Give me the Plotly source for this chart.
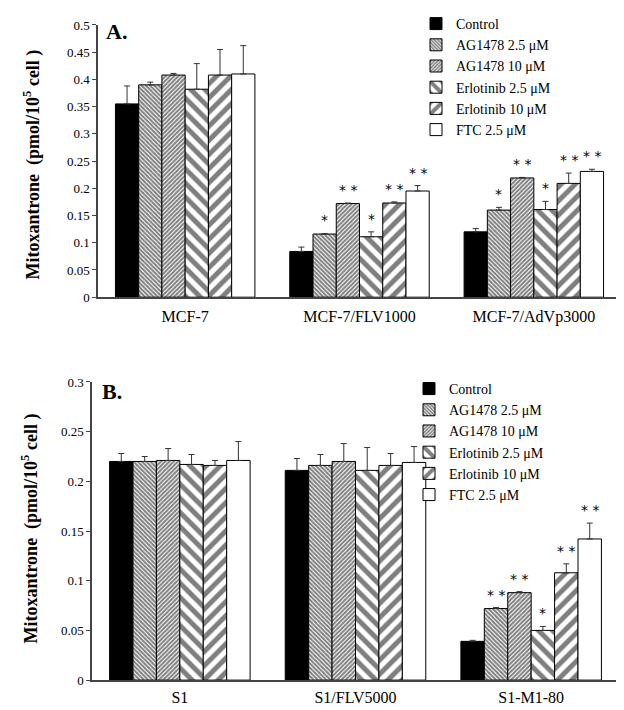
import plotly.graph_objects as go

W, H = 624, 710

series_names = ["Control", "AG1478 2.5 μM", "AG1478 10 μM",
                "Erlotinib 2.5 μM", "Erlotinib 10 μM", "FTC 2.5 μM"]

cats_a = ["MCF-7", "MCF-7/FLV1000", "MCF-7/AdVp3000"]
vals_a = [
    [0.355, 0.084, 0.120],
    [0.390, 0.116, 0.160],
    [0.408, 0.172, 0.219],
    [0.382, 0.111, 0.161],
    [0.408, 0.173, 0.209],
    [0.410, 0.195, 0.231],
]
errs_a = [
    [0.033, 0.008, 0.006],
    [0.005, 0.001, 0.005],
    [0.003, 0.001, 0.001],
    [0.047, 0.009, 0.015],
    [0.047, 0.002, 0.019],
    [0.052, 0.010, 0.004],
]
stars_a = [
    ["", "", ""],
    ["", "*", "*"],
    ["", "* *", "* *"],
    ["", "*", "*"],
    ["", "* *", "* *"],
    ["", "* *", "* *"],
]

cats_b = ["S1", "S1/FLV5000", "S1-M1-80"]
vals_b = [
    [0.220, 0.211, 0.039],
    [0.220, 0.216, 0.072],
    [0.221, 0.220, 0.088],
    [0.217, 0.211, 0.050],
    [0.216, 0.216, 0.108],
    [0.221, 0.219, 0.142],
]
errs_b = [
    [0.008, 0.012, 0.001],
    [0.005, 0.011, 0.001],
    [0.012, 0.018, 0.001],
    [0.010, 0.023, 0.004],
    [0.005, 0.012, 0.009],
    [0.019, 0.016, 0.016],
]
stars_b = [
    ["", "", ""],
    ["", "", "* *"],
    ["", "", "* *"],
    ["", "", "*"],
    ["", "", "* *"],
    ["", "", "* *"],
]

styles = [
    dict(color="black", pattern=dict(shape="")),
    dict(color="white", pattern=dict(shape="\\", size=3, solidity=0.65, fgcolor="black", bgcolor="white")),
    dict(color="white", pattern=dict(shape="/", size=3, solidity=0.65, fgcolor="black", bgcolor="white")),
    dict(color="white", pattern=dict(shape="\\", size=10, solidity=0.5, fgcolor="black", bgcolor="white")),
    dict(color="white", pattern=dict(shape="/", size=10, solidity=0.5, fgcolor="black", bgcolor="white")),
    dict(color="white", pattern=dict(shape="")),
]

FONT = "Liberation Serif"
BARGAP = 0.2
dom_xa = [90 / W, 613 / W]
dom_ya = [1 - 288 / H, 1 - 15 / H]
dom_xb = [84 / W, 611 / W]
dom_yb = [1 - 672 / H, 1 - 373 / H]

fig = go.Figure()

annotations = []


def add_panel(cats, vals, errs, stars, xaxis, yaxis, legend, domx):
    catw = (domx[1] - domx[0]) * W / len(cats)
    barw = catw * (1 - BARGAP) / len(series_names)
    for i, name in enumerate(series_names):
        st = styles[i]
        fig.add_trace(go.Bar(
            x=cats, y=vals[i], name=name,
            xaxis=xaxis, yaxis=yaxis, legend=legend,
            marker=dict(color=st["color"], pattern=st["pattern"],
                        line=dict(color="black", width=1)),
            error_y=dict(type="data", symmetric=False, array=errs[i],
                         arrayminus=[0] * len(cats), color="#333333",
                         thickness=1, width=3),
        ))
        for j, c in enumerate(cats):
            if stars[i][j]:
                annotations.append(dict(
                    x=c, y=vals[i][j] + errs[i][j], xref=xaxis, yref=yaxis,
                    text=stars[i][j], showarrow=False,
                    xanchor="center", yanchor="bottom",
                    xshift=(i - 2.5) * barw, yshift=3,
                    font=dict(family="DejaVu Sans", size=14, color="black")))


add_panel(cats_a, vals_a, errs_a, stars_a, "x", "y", "legend", dom_xa)
add_panel(cats_b, vals_b, errs_b, stars_b, "x2", "y2", "legend2", dom_xb)

axis_common = dict(showline=True, linecolor="#444444", linewidth=1.5,
                   showgrid=False, zeroline=False, automargin=False)

tick_y = dict(family=FONT, size=13, color="black")
tick_x = dict(family=FONT, size=16, color="black")

ytitle = "<b>Mitoxantrone  (pmol/10<sup>5</sup> cell )</b>"
annotations += [
    dict(x=24 / W, y=1 - 155 / H, xref="paper", yref="paper", text=ytitle,
         textangle=-90, showarrow=False, xanchor="center", yanchor="middle",
         font=dict(family=FONT, size=18, color="black")),
    dict(x=22 / W, y=1 - 520 / H, xref="paper", yref="paper", text=ytitle,
         textangle=-90, showarrow=False, xanchor="center", yanchor="middle",
         font=dict(family=FONT, size=18, color="black")),
    dict(x=96 / W, y=1 - 22 / H, xref="paper", yref="paper", text="<b>A.</b>",
         showarrow=False, xanchor="left", yanchor="middle",
         font=dict(family=FONT, size=22, color="black")),
    dict(x=92 / W, y=1 - 383 / H, xref="paper", yref="paper", text="<b>B.</b>",
         showarrow=False, xanchor="left", yanchor="middle",
         font=dict(family=FONT, size=22, color="black")),
]

legend_common = dict(font=dict(family=FONT, size=14, color="black"),
                     bgcolor="rgba(0,0,0,0)", itemwidth=30,
                     xanchor="left", yanchor="top", tracegroupgap=0,
                     itemclick=False)

fig.update_layout(
    width=W, height=H,
    margin=dict(l=0, r=0, t=0, b=0),
    paper_bgcolor="white", plot_bgcolor="white",
    barmode="group", bargap=BARGAP, bargroupgap=0,
    font=dict(family=FONT, color="black"),
    xaxis=dict(domain=dom_xa, anchor="y", ticks="", ticklabelstandoff=4,
               tickfont=tick_x, **axis_common),
    yaxis=dict(domain=dom_ya, anchor="x", range=[0, 0.5], dtick=0.05,
               ticks="outside", ticklen=4, tickcolor="#444444",
               tickformat="~g", tickfont=tick_y, **axis_common),
    xaxis2=dict(domain=dom_xb, anchor="y2", ticks="", ticklabelstandoff=2,
                tickfont=tick_x, **axis_common),
    yaxis2=dict(domain=dom_yb, anchor="x2", range=[0, 0.3], dtick=0.05,
                ticks="outside", ticklen=4, tickcolor="#444444",
                tickformat="~g", tickfont=tick_y, **axis_common),
    legend=dict(x=408 / W, y=1 + 2 / H, **legend_common),
    legend2=dict(x=401 / W, y=1 - 364 / H, **legend_common),
    annotations=annotations,
    showlegend=True,
)

fig.write_html("out.html")
